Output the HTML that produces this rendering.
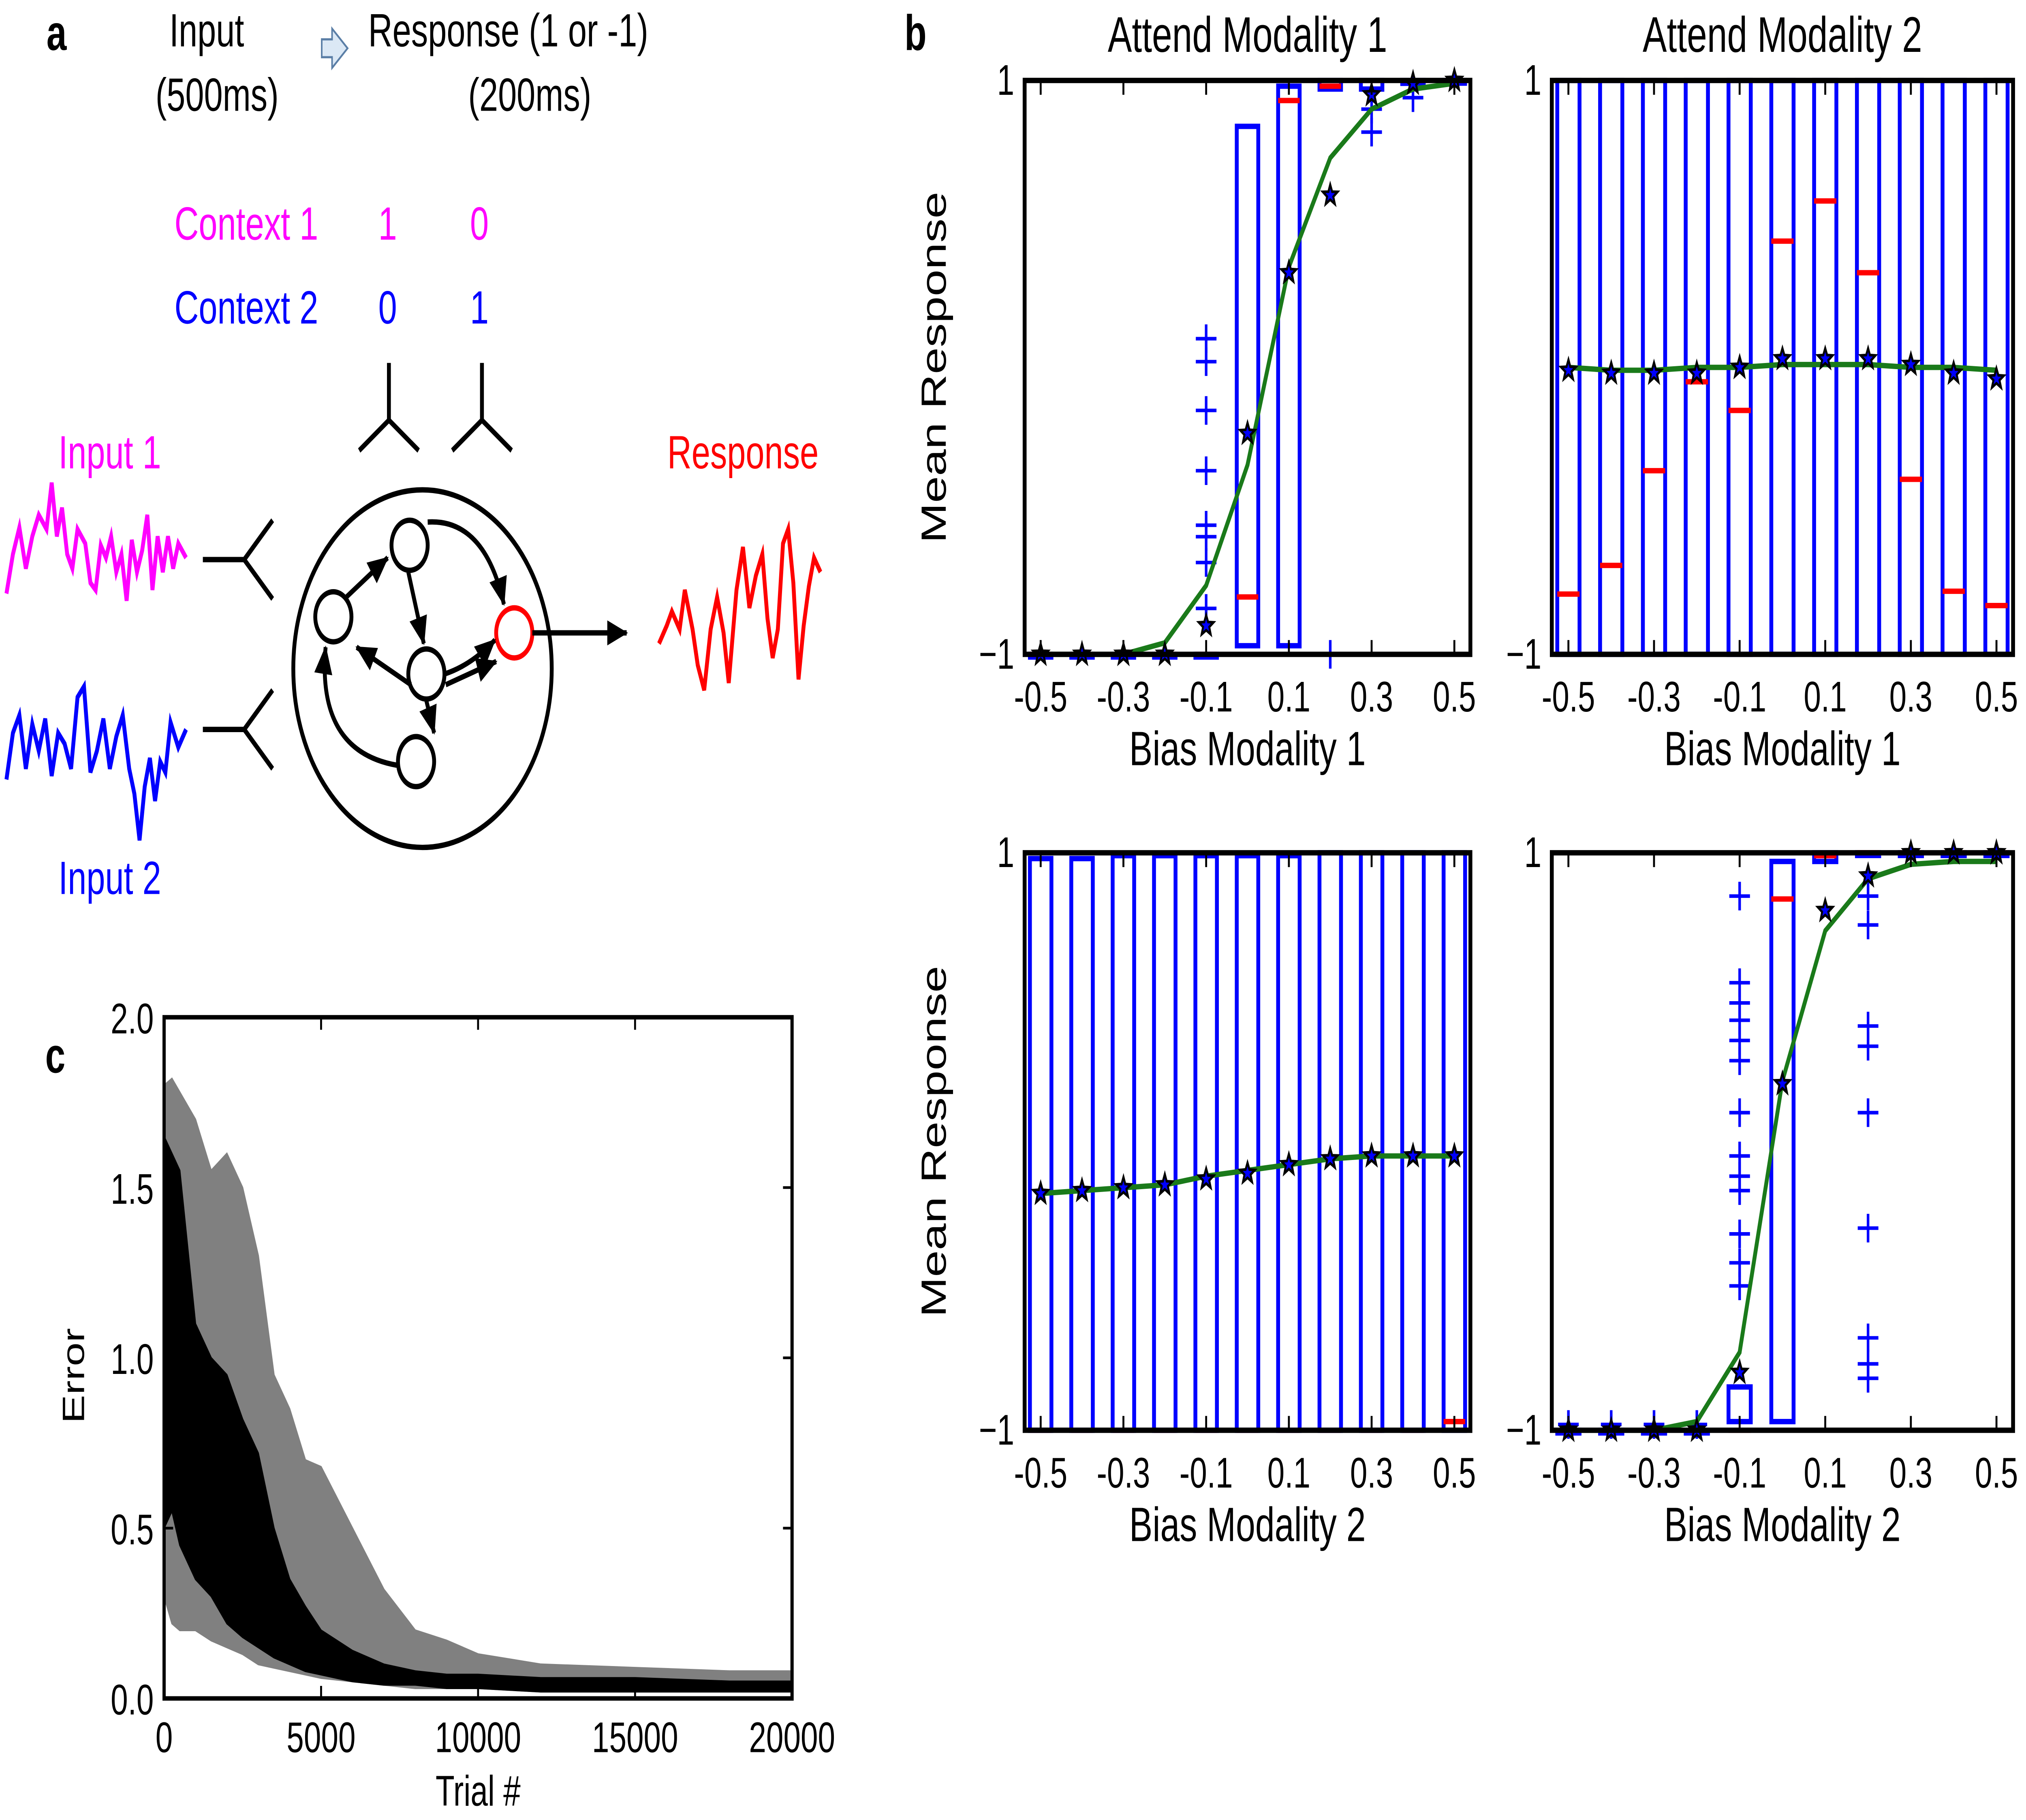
<!DOCTYPE html>
<html><head><meta charset="utf-8"><style>
html,body{margin:0;padding:0;background:#fff;width:100%;height:100%;overflow:hidden}
svg{display:block;position:absolute;left:0;top:0;width:100vw;height:100vh}
text{font-family:"Liberation Sans","DejaVu Sans",sans-serif}
</style></head><body>
<svg id="fig" width="100%" height="100%" viewBox="0 0 1568 1018" preserveAspectRatio="none" xmlns="http://www.w3.org/2000/svg">
<rect x="0" y="0" width="1568" height="1018" fill="#fff"/>
<g font-size="26">
<text x="36" y="28" font-weight="bold" font-size="28">a</text>
<text x="160" y="26" text-anchor="middle">Input</text>
<text x="168" y="62" text-anchor="middle">(500ms)</text>
<path d="M249,22 h8 v-6 l12,11 l-12,11 v-6 h-8 z" fill="#dbe8f5" stroke="#5a7ea6" stroke-width="1.2"/>
<text x="285" y="26">Response (1 or -1)</text>
<text x="410" y="62" text-anchor="middle">(200ms)</text>
<text x="135" y="134" fill="#ff00ff">Context 1</text>
<text x="300" y="134" fill="#ff00ff" text-anchor="middle">1</text>
<text x="371" y="134" fill="#ff00ff" text-anchor="middle">0</text>
<text x="135" y="181" fill="#0000ff">Context 2</text>
<text x="300" y="181" fill="#0000ff" text-anchor="middle">0</text>
<text x="371" y="181" fill="#0000ff" text-anchor="middle">1</text>
<g stroke="#000" stroke-width="3" fill="none">
<path d="M301,203 v32 M301,235 l-23,17 M301,235 l23,17"/>
<path d="M373,203 v32 M373,235 l-23,17 M373,235 l23,17"/>
<path d="M157,313 h32 M189,313 l22,-22 M189,313 l22,22"/>
<path d="M157,408 h32 M189,408 l22,-22 M189,408 l22,22"/>
<circle cx="327" cy="374" r="100"/>
</g>
<text x="85" y="262" fill="#ff00ff" text-anchor="middle">Input 1</text>
<text x="85" y="500" fill="#0000ff" text-anchor="middle">Input 2</text>
<text x="575" y="262" fill="#ff0000" text-anchor="middle">Response</text>
<polyline fill="none" stroke="#ff00ff" stroke-width="3" points="5,332 10,310 15,295 20,318 25,300 30,288 36,296 40,270 44,300 48,284 52,310 56,318 60,296 66,304 70,326 74,330 78,305 82,312 86,300 90,320 94,310 98,336 102,302 106,320 110,308 114,288 118,330 122,300 126,320 130,300 134,318 138,304 144,312"/>
<polyline fill="none" stroke="#0000ff" stroke-width="3" points="5,436 10,410 15,400 20,430 25,405 30,420 35,402 40,434 45,410 50,416 55,430 60,390 65,384 70,432 75,420 80,402 85,430 90,412 95,400 100,430 104,444 108,470 112,440 116,424 120,448 124,426 128,432 132,404 138,418 144,408"/>
<polyline fill="none" stroke="#ff0000" stroke-width="3" points="510,360 516,350 520,342 526,352 530,330 536,352 540,372 545,386 550,352 555,334 560,354 564,382 570,330 575,306 580,340 585,322 590,310 594,346 598,368 602,352 606,304 610,296 614,326 618,380 622,350 626,328 630,312 635,320"/>
<g stroke="#000" stroke-width="3" fill="#fff">
<circle cx="317" cy="305" r="14"/><circle cx="258" cy="345" r="14"/><circle cx="330" cy="377" r="14"/><circle cx="322" cy="426" r="14"/>
<circle cx="398" cy="354" r="14" stroke="#ff0000"/>
</g>
<defs><marker id="ah2" markerWidth="16" markerHeight="14" refX="15" refY="7" orient="auto" markerUnits="userSpaceOnUse"><path d="M0,0 L16,7 L0,14 z" fill="#000"/></marker></defs>
<g stroke="#000" stroke-width="3" fill="none" marker-end="url(#ah2)">
<path d="M268,334 L300,312"/>
<path d="M316,320 L328,360"/>
<path d="M331,292 Q375,290 390,338"/>
<path d="M318,383 L276,362"/>
<path d="M344,377 Q365,372 383,358"/>
<path d="M345,383 L384,370"/>
<path d="M330,392 L336,410"/>
<path d="M307,428 Q245,420 252,362"/>
<path d="M412,354 L485,354"/>
</g>
</g>

<text x="700" y="28" font-weight="bold" font-size="28">b</text>
<text x="35" y="600" font-weight="bold" font-size="28">c</text>
<g id="bplots"></g>
<g id="cplot"></g>
</svg>
<script>
const biasLevels = [-0.5,-0.4,-0.3,-0.2,-0.1,0,0.1,0.2,0.3,0.4,0.5];
const tickLabels = ["-0.5","-0.3","-0.1","0.1","0.3","0.5"];
const tickValues = [-0.5,-0.3,-0.1,0.1,0.3,0.5];
const tlQ1 = [-1,-1,-1,-1,-1,-0.97,-0.97,0.97,0.97,0.99,1];
const tlQ3 = [-1,-1,-1,-1,-1,0.84,0.98,1,1,1,1];
const tlMed = [-1,-1,-1,-1,-1,-0.8,0.93,0.98,1,1,1];
const tlMean = [-1,-1,-1,-0.96,-0.76,-0.34,0.35,0.73,0.9,0.97,0.99];
const tlStar = [-1,-1,-1,-1,-0.9,-0.23,0.33,0.6,0.95,0.99,1];
const tlFlierX = [-0.1,-0.1,-0.1,-0.1,-0.1,-0.1,-0.1,-0.1,0.2,0.3,0.3,0.4];
const tlFlierY = [0.1,0.02,-0.15,-0.36,-0.55,-0.59,-0.68,-0.84,-1,0.9,0.82,0.94];
const trQ1 = [-1,-1,-1,-1,-1,-1,-1,-1,-1,-1,-1];
const trQ3 = [1,1,1,1,1,1,1,1,1,1,1];
const trMed = [-0.79,-0.69,-0.36,-0.05,-0.15,0.44,0.58,0.33,-0.39,-0.78,-0.83];
const trMean = [0.0,-0.01,-0.01,0.0,0.0,0.01,0.01,0.01,0.0,0.0,-0.01];
const trStar = [-0.01,-0.02,-0.02,-0.02,0.0,0.03,0.03,0.03,0.01,-0.02,-0.04];
const blQ1 = [-1,-1,-1,-1,-1,-1,-1,-1,-1,-1,-1];
const blQ3 = [0.98,0.98,0.99,0.99,0.99,0.99,0.99,1,1,1,1];
const blMed = [-1,-1,-1,-1,-1,-1,-1,-1,-1,-1,-0.97];
const blMean = [-0.18,-0.17,-0.16,-0.15,-0.12,-0.1,-0.08,-0.06,-0.05,-0.05,-0.05];
const blStar = [-0.18,-0.17,-0.16,-0.15,-0.13,-0.11,-0.08,-0.06,-0.05,-0.05,-0.05];
const brQ1 = [-1,-1,-1,-1,-0.97,-0.97,0.97,1,1,1,1];
const brQ3 = [-1,-1,-1,-1,-0.85,0.97,1,1,1,1,1];
const brMed = [-1,-1,-1,-1,-1,0.84,0.99,1,1,1,1];
const brMean = [-1,-1,-1,-0.97,-0.73,0.21,0.73,0.91,0.96,0.97,0.97];
const brStar = [-1,-1,-1,-1,-0.8,0.2,0.8,0.92,1,1,1];
const brFlierX = [-0.1,-0.1,-0.1,-0.1,-0.1,-0.1,-0.1,-0.1,-0.1,-0.1,-0.1,-0.1,-0.1,0.2,0.2,0.2,0.2,0.2,0.2,0.2,0.2,0.2,-0.5,-0.4,-0.3,-0.2];
const brFlierY = [0.85,0.55,0.48,0.42,0.35,0.28,0.1,-0.05,-0.12,-0.17,-0.32,-0.42,-0.5,0.85,0.75,0.4,0.33,0.1,-0.3,-0.68,-0.77,-0.82,-0.98,-0.98,-0.98,-0.98];

const NS='http://www.w3.org/2000/svg';
function mk(tag, attrs, parent){const e=document.createElementNS(NS,tag);for(const k in attrs)e.setAttribute(k,attrs[k]);parent.appendChild(e);return e;}

const panels = [
 {x0:793,x1:1138,y0:45,y1:366,q1:tlQ1,q3:tlQ3,med:tlMed,mean:tlMean,star:tlStar,fx:tlFlierX,fy:tlFlierY,title:"Attend Modality 1",xlabel:"Bias Modality 1",ylab:true,name:"attend1-bias1"},
 {x0:1201,x1:1558,y0:45,y1:366,q1:trQ1,q3:trQ3,med:trMed,mean:trMean,star:trStar,fx:[],fy:[],title:"Attend Modality 2",xlabel:"Bias Modality 1",ylab:false,name:"attend2-bias1"},
 {x0:793,x1:1138,y0:477,y1:800,q1:blQ1,q3:blQ3,med:blMed,mean:blMean,star:blStar,fx:[],fy:[],title:null,xlabel:"Bias Modality 2",ylab:true,name:"attend1-bias2"},
 {x0:1201,x1:1558,y0:477,y1:800,q1:brQ1,q3:brQ3,med:brMed,mean:brMean,star:brStar,fx:brFlierX,fy:brFlierY,title:null,xlabel:"Bias Modality 2",ylab:false,name:"attend2-bias2"}
];
const bg=document.getElementById('bplots');
function starPath(cx,cy,r){let d='';for(let i=0;i<10;i++){const a=-Math.PI/2+i*Math.PI/5;const rr=i%2?r*0.42:r;d+=(i?'L':'M')+(cx+rr*Math.cos(a)).toFixed(1)+','+(cy+rr*Math.sin(a)).toFixed(1);}return d+'Z';}
panels.forEach(p=>{
  const g=mk('g',{},bg);
  
  
  const pad=(p.x1-p.x0)*0.036;
  const sx=v=>p.x0+pad+(v+0.5)/1*(p.x1-p.x0-2*pad);
  const sy=v=>(p.y0+p.y1)/2-v*(p.y1-p.y0)/2;
  const bw=(p.x1-p.x0-2*pad)/10*0.52;
  biasLevels.forEach((b,i)=>{
    const x=sx(b), top=sy(p.q3[i]), bot=sy(p.q1[i]);
    const bx=mk('rect',{x:x-bw/2,y:top,width:bw,height:Math.max(bot-top,1.5),fill:'none',stroke:'#0000ff','stroke-width':3},g);
    
    
    const md=mk('line',{x1:x-bw/2,x2:x+bw/2,y1:sy(p.med[i]),y2:sy(p.med[i]),stroke:'#ff0000','stroke-width':3},g);
    
    
  });
  p.fx.forEach((fx,i)=>{
    const x=sx(fx), y=sy(p.fy[i]);
    const f=mk('path',{d:`M${x-8},${y}h16M${x},${y-8}v16`,stroke:'#0000ff','stroke-width':2,fill:'none'},g);
    
    
  });
  const ml=mk('polyline',{points:biasLevels.map((b,i)=>sx(b)+','+sy(p.mean[i])).join(' '),fill:'none',stroke:'#1a7a1a','stroke-width':3},g);
  
  
  biasLevels.forEach((b,i)=>{
    const s=mk('path',{d:starPath(sx(b),sy(p.star[i]),6),fill:'#0000ff',stroke:'#000','stroke-width':1.5},g);
    
    
  });
  const fr=mk('rect',{x:p.x0,y:p.y0,width:p.x1-p.x0,height:p.y1-p.y0,fill:'none',stroke:'#000','stroke-width':3},g);
  
  
  tickValues.forEach((t,i)=>{
    const x=sx(t);
    mk('path',{d:`M${x},${p.y1}v-8M${x},${p.y0}v8`,stroke:'#000','stroke-width':1.5},g);
    const tl=mk('text',{x:x,y:p.y1+32,'text-anchor':'middle','font-size':24},g);
    tl.textContent=tickLabels[i];
    
    
  });
  [1,-1].forEach(v=>{
    const t=mk('text',{x:p.x0-8,y:sy(v)+8,'text-anchor':'end','font-size':24},g);
    t.textContent=v===1?'1':'\u22121';
    
    
  });
  const xl=mk('text',{x:(p.x0+p.x1)/2,y:p.y1+62,'text-anchor':'middle','font-size':27},g);
  xl.textContent=p.xlabel;
  
  
  if(p.title){
    const tt=mk('text',{x:(p.x0+p.x1)/2,y:p.y0-16,'text-anchor':'middle','font-size':28},g);
    tt.textContent=p.title;
    
    
  }
  if(p.ylab){
    const cy=(p.y0+p.y1)/2;
    const yl=mk('text',{x:p.x0-70,y:cy,'text-anchor':'middle','font-size':27,transform:`rotate(-90 ${p.x0-70} ${cy})`,dy:'9'},g);
    yl.textContent='Mean Response';
    
    
  }
});

const trialX = [0,250,500,1000,1500,2000,2500,3000,3500,4000,4500,5000,6000,7000,8000,9000,10000,12000,15000,18000,20000];
const grayUpper = [1.8,1.82,1.78,1.7,1.55,1.6,1.5,1.3,0.95,0.85,0.7,0.68,0.5,0.32,0.2,0.17,0.13,0.1,0.09,0.08,0.08];
const grayLower = [0.3,0.22,0.2,0.2,0.17,0.15,0.13,0.1,0.09,0.08,0.07,0.06,0.05,0.04,0.03,0.03,0.03,0.02,0.02,0.02,0.02];
const blackUpper = [1.65,1.6,1.55,1.1,1.0,0.95,0.82,0.72,0.5,0.35,0.27,0.2,0.14,0.1,0.08,0.07,0.07,0.06,0.06,0.05,0.05];
const blackLower = [0.5,0.55,0.45,0.35,0.3,0.22,0.18,0.15,0.12,0.1,0.08,0.07,0.05,0.04,0.04,0.03,0.03,0.02,0.02,0.02,0.02];
const cTicksX = [0,5000,10000,15000,20000];
const cTicksY = [0,0.5,1.0,1.5,2.0];
(function(){
  const cg=document.getElementById('cplot');
  const X0=127,X1=613,Y0=569,Y1=950;
  const sx=v=>X0+v/20000*(X1-X0);
  const sy=v=>Y1-v/2*(Y1-Y0);
  function band(up,lo,col,name){
    const pts=trialX.map((t,i)=>sx(t)+','+sy(up[i])).concat(trialX.slice().reverse().map((t,j)=>{const i=trialX.length-1-j;return sx(t)+','+sy(lo[i]);}));
    const e=mk('polygon',{points:pts.join(' '),fill:col,stroke:col,'stroke-width':1},cg);
    
    
  }
  band(grayUpper,grayLower,'#808080','error-range-band');
  band(blackUpper,blackLower,'#000','error-mean-band');
  const fr=mk('rect',{x:X0,y:Y0,width:X1-X0,height:Y1-Y0,fill:'none',stroke:'#000','stroke-width':2.5},cg);
  
  
  cTicksX.forEach(t=>{
    const x=sx(t);
    mk('path',{d:`M${x},${Y1}v-7M${x},${Y0}v7`,stroke:'#000','stroke-width':1.5},cg);
    const tl=mk('text',{x:x,y:Y1+30,'text-anchor':'middle','font-size':24},cg);
    tl.textContent=String(t);
    
    
  });
  cTicksY.forEach(t=>{
    const y=sy(t);
    mk('path',{d:`M${X0},${y}h7M${X1},${y}h-7`,stroke:'#000','stroke-width':1.5},cg);
    const tl=mk('text',{x:X0-8,y:y+9,'text-anchor':'end','font-size':24},cg);
    tl.textContent=t.toFixed(1);
    
    
  });
  const xl=mk('text',{x:(X0+X1)/2,y:1010,'text-anchor':'middle','font-size':24},cg);
  xl.textContent='Trial #';
  
  
  const cy=(Y0+Y1)/2;
  const yl=mk('text',{x:57,y:cy+10,'text-anchor':'middle','font-size':24,transform:`rotate(-90 57 ${cy+10})`,dy:'8'},cg);
  yl.textContent='Error';
  
  
})();
</script>
</body></html>
